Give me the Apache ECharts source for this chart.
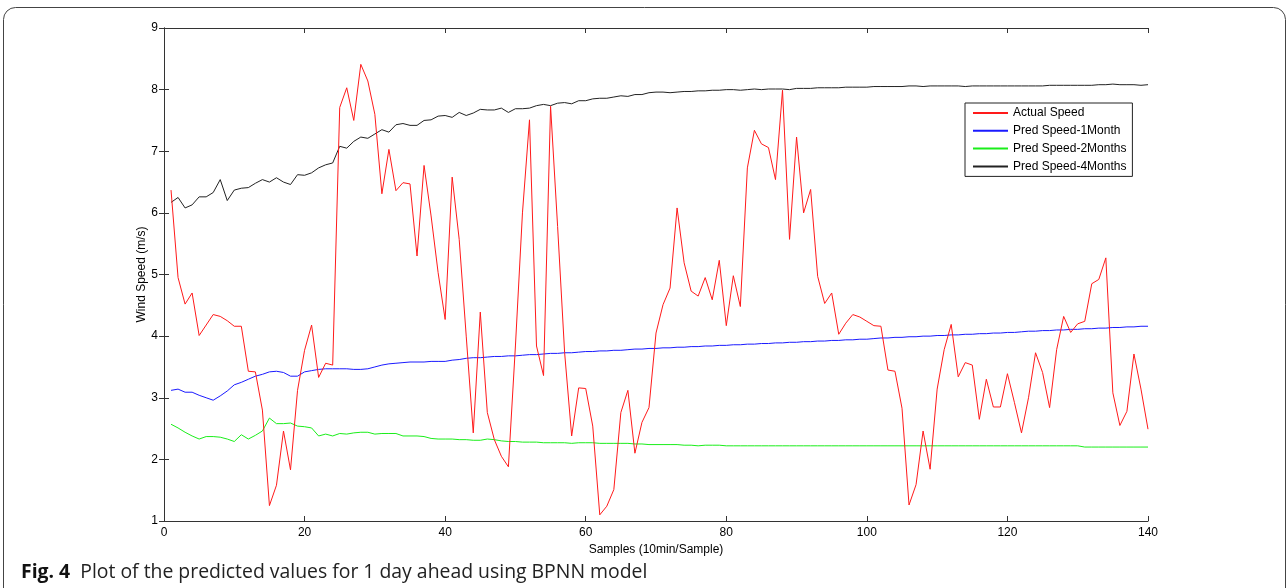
<!DOCTYPE html>
<html>
<head>
<meta charset="utf-8">
<title>BPNN wind speed</title>
<script src="https://cdn.jsdelivr.net/npm/echarts@6/dist/echarts.min.js"></script>
<style>
  html, body { margin: 0; padding: 0; background: #fff; }
  #chart { width: 1288px; height: 588px; }
</style>
</head>
<body>
<div id="chart"></div>
<script>
// samples 1..140, 10 min each
var actualSpeed = [
  6.37, 4.95, 4.52, 4.70, 4.01, 4.18, 4.35, 4.32, 4.25, 4.16,
  4.16, 3.43, 3.42, 2.80, 1.25, 1.58, 2.46, 1.83, 3.12, 3.77,
  4.18, 3.33, 3.56, 3.53, 7.71, 8.03, 7.50, 8.41, 8.14, 7.60,
  6.31, 7.03, 6.36, 6.49, 6.47, 5.30, 6.77, 5.95, 5.03, 4.27,
  6.58, 5.57, 4.00, 2.43, 4.39, 2.76, 2.32, 2.05, 1.88, 3.84,
  6.00, 7.51, 3.84, 3.36, 7.73, 5.78, 3.73, 2.38, 3.16, 3.15,
  2.54, 1.10, 1.24, 1.51, 2.76, 3.12, 2.10, 2.60, 2.84, 4.05,
  4.51, 4.78, 6.08, 5.19, 4.73, 4.65, 4.95, 4.59, 5.23, 4.17,
  4.98, 4.48, 6.73, 7.34, 7.12, 7.06, 6.54, 7.99, 5.57, 7.23,
  6.00, 6.38, 4.97, 4.53, 4.70, 4.03, 4.21, 4.35, 4.31, 4.24,
  4.17, 4.16, 3.45, 3.43, 2.83, 1.26, 1.59, 2.46, 1.84, 3.14,
  3.78, 4.19, 3.34, 3.57, 3.53, 2.65, 3.30, 2.85, 2.85, 3.39,
  2.92, 2.43, 3.00, 3.73, 3.41, 2.84, 3.78, 4.32, 4.06, 4.20,
  4.24, 4.85, 4.92, 5.27, 3.08, 2.55, 2.78, 3.71, 3.14, 2.49
];

var pred1Month = [
  3.12, 3.14, 3.09, 3.09, 3.04, 3.00, 2.96, 3.03, 3.11, 3.21,
  3.25, 3.30, 3.35, 3.38, 3.42, 3.43, 3.41, 3.35, 3.35, 3.42,
  3.44, 3.46, 3.47, 3.47, 3.47, 3.47, 3.46, 3.46, 3.47, 3.50,
  3.53, 3.55, 3.56, 3.57, 3.58, 3.58, 3.58, 3.59, 3.59, 3.59,
  3.61, 3.62, 3.64, 3.65, 3.65, 3.66, 3.67, 3.67, 3.68, 3.68,
  3.69, 3.70, 3.70, 3.71, 3.72, 3.72, 3.73, 3.73, 3.74, 3.75,
  3.75, 3.76, 3.76, 3.77, 3.77, 3.78, 3.79, 3.79, 3.80, 3.80,
  3.81, 3.81, 3.82, 3.82, 3.83, 3.83, 3.84, 3.84, 3.85, 3.85,
  3.86, 3.86, 3.87, 3.87, 3.88, 3.88, 3.89, 3.89, 3.90, 3.90,
  3.91, 3.91, 3.92, 3.92, 3.93, 3.93, 3.94, 3.94, 3.95, 3.95,
  3.96, 3.97, 3.97, 3.98, 3.98, 3.99, 3.99, 4.00, 4.00, 4.01,
  4.01, 4.02, 4.02, 4.03, 4.03, 4.04, 4.04, 4.05, 4.05, 4.06,
  4.06, 4.07, 4.08, 4.08, 4.09, 4.09, 4.10, 4.10, 4.11, 4.11,
  4.12, 4.12, 4.13, 4.13, 4.14, 4.14, 4.15, 4.15, 4.16, 4.16
];

var pred2Months = [
  2.57, 2.51, 2.44, 2.38, 2.33, 2.37, 2.37, 2.36, 2.33, 2.29,
  2.40, 2.33, 2.39, 2.46, 2.67, 2.58, 2.58, 2.59, 2.54, 2.53,
  2.51, 2.38, 2.41, 2.38, 2.42, 2.41, 2.43, 2.44, 2.44, 2.41,
  2.42, 2.42, 2.42, 2.38, 2.38, 2.38, 2.37, 2.34, 2.33, 2.33,
  2.33, 2.32, 2.32, 2.31, 2.31, 2.33, 2.32, 2.30, 2.29, 2.29,
  2.28, 2.28, 2.28, 2.27, 2.27, 2.27, 2.27, 2.26, 2.27, 2.27,
  2.27, 2.26, 2.26, 2.26, 2.26, 2.26, 2.25, 2.25, 2.24, 2.24,
  2.24, 2.24, 2.24, 2.23, 2.23, 2.22, 2.23, 2.23, 2.23, 2.22,
  2.22, 2.22, 2.22, 2.22, 2.22, 2.22, 2.22, 2.22, 2.22, 2.22,
  2.22, 2.22, 2.22, 2.22, 2.22, 2.22, 2.22, 2.22, 2.22, 2.22,
  2.22, 2.22, 2.22, 2.22, 2.22, 2.22, 2.22, 2.22, 2.22, 2.22,
  2.22, 2.22, 2.22, 2.22, 2.22, 2.22, 2.22, 2.22, 2.22, 2.22,
  2.22, 2.22, 2.22, 2.22, 2.22, 2.22, 2.22, 2.22, 2.22, 2.22,
  2.20, 2.20, 2.20, 2.20, 2.20, 2.20, 2.20, 2.20, 2.20, 2.20
];

var pred4Months = [
  6.17, 6.25, 6.08, 6.13, 6.26, 6.26, 6.33, 6.54, 6.20, 6.37,
  6.40, 6.41, 6.48, 6.54, 6.50, 6.57, 6.50, 6.46, 6.62, 6.61,
  6.65, 6.73, 6.78, 6.81, 7.08, 7.05, 7.16, 7.23, 7.21, 7.28,
  7.35, 7.31, 7.43, 7.45, 7.42, 7.42, 7.50, 7.51, 7.57, 7.58,
  7.55, 7.63, 7.58, 7.62, 7.68, 7.67, 7.67, 7.70, 7.63, 7.69,
  7.69, 7.70, 7.74, 7.76, 7.74, 7.78, 7.79, 7.77, 7.82, 7.82,
  7.85, 7.86, 7.86, 7.88, 7.90, 7.89, 7.92, 7.92, 7.95, 7.96,
  7.96, 7.95, 7.96, 7.97, 7.97, 7.98, 7.98, 7.99, 7.99, 8.00,
  8.00, 7.99, 8.00, 8.01, 8.00, 8.01, 8.01, 8.01, 8.00, 8.02,
  8.02, 8.02, 8.03, 8.03, 8.03, 8.03, 8.04, 8.04, 8.04, 8.04,
  8.05, 8.05, 8.05, 8.05, 8.05, 8.06, 8.06, 8.05, 8.06, 8.06,
  8.06, 8.06, 8.06, 8.05, 8.06, 8.06, 8.06, 8.06, 8.06, 8.06,
  8.06, 8.06, 8.06, 8.06, 8.06, 8.07, 8.07, 8.07, 8.07, 8.07,
  8.07, 8.07, 8.08, 8.08, 8.09, 8.08, 8.08, 8.08, 8.07, 8.08
];

var seriesNames = ['Actual Speed', 'Pred Speed-1Month', 'Pred Speed-2Months', 'Pred Speed-4Months'];
var seriesColors = ['#ff1a1a', '#1a1aff', '#1aee1a', '#222222'];

function toPoints(arr) {
  // sample numbers start at 1
  return arr.map(function (v, i) { return [i + 1, v]; });
}

var axisColor = '#333';
var font = 'Liberation Sans, Arial, sans-serif';

var chart = echarts.init(document.getElementById('chart'), null, { renderer: 'canvas' });

var boxAxis = {
  axisLine: { show: true, lineStyle: { color: axisColor, width: 1 } },
  axisTick: { show: true, inside: true, length: 5, lineStyle: { color: axisColor } },
  splitLine: { show: false }
};

var option = {
  backgroundColor: '#fff',
  animation: false,
  grid: { left: 164, top: 28, width: 984, height: 493, containLabel: false },
  legend: {
    data: seriesNames,
    orient: 'vertical',
    left: 965,
    top: 103,
    width: 167,
    padding: [4, 6, 4, 7],
    itemWidth: 35,
    itemHeight: 13,
    itemGap: 5.8,
    itemStyle: { opacity: 0 },
    backgroundColor: '#fff',
    borderColor: '#222',
    borderWidth: 1,
    borderRadius: 0,
    textStyle: { fontFamily: font, fontSize: 12, color: '#000' }
  },
  xAxis: [
    Object.assign({
      type: 'value', min: 0, max: 140, interval: 20, position: 'bottom',
      name: 'Samples (10min/Sample)', nameLocation: 'middle', nameGap: 20,
      nameTextStyle: { fontFamily: font, fontSize: 12, color: '#000' },
      axisLabel: { fontFamily: font, fontSize: 12, color: '#000', margin: 6 }
    }, boxAxis),
    Object.assign({
      type: 'value', min: 0, max: 140, interval: 20, position: 'top',
      axisLabel: { show: false }
    }, boxAxis)
  ],
  yAxis: [
    Object.assign({
      type: 'value', min: 1, max: 9, interval: 1, position: 'left',
      name: 'Wind Speed (m/s)', nameLocation: 'middle', nameGap: 16,
      nameMoveOverlap: false,
      nameTextStyle: { fontFamily: font, fontSize: 12, color: '#000' },
      axisLabel: { fontFamily: font, fontSize: 12, color: '#000', margin: 6 }
    }, boxAxis),
    Object.assign({
      type: 'value', min: 1, max: 9, interval: 1, position: 'right',
      axisLabel: { show: false }
    }, boxAxis)
  ],
  series: [actualSpeed, pred1Month, pred2Months, pred4Months].map(function (arr, k) {
    return {
      name: seriesNames[k],
      type: 'line',
      data: toPoints(arr),
      showSymbol: false,
      symbol: 'none',
      color: seriesColors[k],
      lineStyle: { width: 1, color: seriesColors[k] },
      z: 4 - k
    };
  }),
  graphic: [
    {
      type: 'rect',
      shape: { x: 3.5, y: 7.5, width: 1282, height: 700, r: [12, 12, 0, 0] },
      style: { fill: null, stroke: '#444', lineWidth: 1 },
      silent: true
    },
    {
      type: 'text',
      left: 21,
      top: 563,
      style: {
        text: '{b|Fig. 4}  Plot of the predicted values for 1 day ahead using BPNN model',
        fontFamily: 'Open Sans, sans-serif',
        fontSize: 19.4,
        fill: '#222',
        rich: {
          b: { fontFamily: 'Open Sans, sans-serif', fontSize: 19.4, fontWeight: 'bold', fill: '#111' }
        }
      }
    }
  ]
};

chart.setOption(option);
</script>
</body>
</html>
